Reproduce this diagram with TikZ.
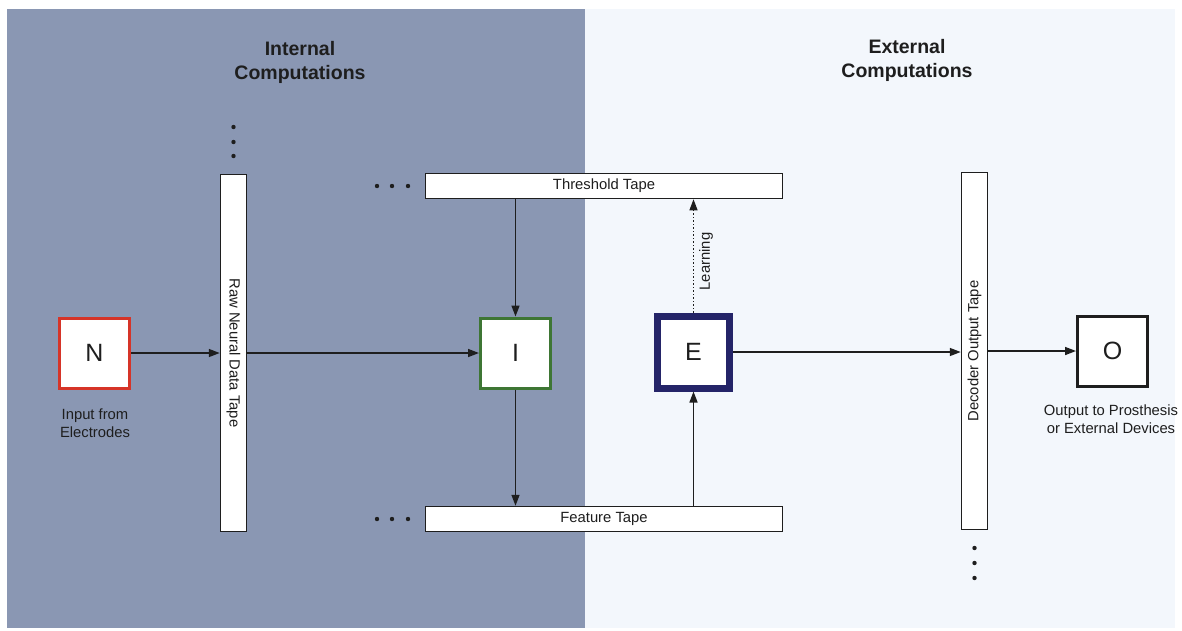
\documentclass[tikz,border=0pt]{standalone}
\usepackage{fontspec}
\setmainfont{Liberation Sans}
\usetikzlibrary{arrows.meta}
\definecolor{bggray}{RGB}{138,151,179}
\definecolor{bgblue}{RGB}{243,247,252}
\definecolor{nred}{RGB}{214,52,40}
\definecolor{igreen}{RGB}{62,118,52}
\definecolor{enavy}{RGB}{36,36,104}
\definecolor{ink}{RGB}{30,30,30}
\begin{document}
\begin{tikzpicture}[x=1pt,y=-1pt,
  tape/.style={draw=ink, fill=white, line width=1.5pt, inner sep=0pt, text=ink,
    font=\fontsize{14.8}{17}\selectfont},
  htape/.style={tape, minimum width=357pt, minimum height=25pt},
  vtape/.style={tape, minimum width=26pt, minimum height=357pt},
  proc/.style={fill=white, minimum size=70pt, inner sep=0pt, line width=3pt,
    text=ink, font=\fontsize{25}{30}\selectfont},
  conn/.style={draw=ink, line width=1.5pt, -{Triangle[length=11pt,width=8pt]}},
  lbl/.style={font=\fontsize{14.8}{17.5}\selectfont, align=center, text=ink},
  ttl/.style={font=\bfseries\fontsize{19.5}{24}\selectfont, align=center, text=ink},
  dotc/.style={circle, fill=ink, inner sep=0pt, minimum size=4.4pt}]
\useasboundingbox (0,0) rectangle (1182,630);
\fill[white] (0,0) rectangle (1182,630);
\fill[bggray] (7,9) rectangle (585,628);
\fill[bgblue] (585,9) rectangle (1175,628);

% titles
\node[ttl] (tint) at (300,62) {Internal\\Computations};
\node[ttl] (text) at (907,60) {External\\Computations};

% boxes
\node[proc, draw=nred] (N) at (94.5,353) {N};
\node[proc, draw=igreen] (I) at (515.5,353) {I};
\node[proc, draw=enavy, line width=7pt, minimum size=72pt] (E) at (693.5,352) {E};
\node[proc, draw=ink] (O) at (1112.5,351) {O};

% tapes
\node[vtape] (raw) at (233.5,353) {\rotatebox{-90}{Raw Neural Data Tape}};
\node[vtape] (dec) at (974.5,351) {\rotatebox{90}{Decoder Output Tape}};
\node[htape] (thr) at (604,186) {Threshold Tape};
\node[htape] (feat) at (604,519) {Feature Tape};

% labels
\node[lbl] (inlbl) at (95,423) {Input from\\Electrodes};
\node[lbl] (outlbl) at (1111,419) {Output to Prosthesis\\or External Devices};

% dots
\foreach \y [count=\i] in {127,142,156} \node[dotc] (rd\i) at (233.5,\y) {};
\foreach \x [count=\i] in {377,392,408} \node[dotc] (td\i) at (\x,186) {};
\foreach \x [count=\i] in {377,392,408} \node[dotc] (fd\i) at (\x,519) {};
\foreach \y [count=\i] in {548,563,578} \node[dotc] (dd\i) at (974.5,\y) {};

% connectors
\draw[conn] (N) -- (N -| raw.west);
\draw[conn] (raw.east |- I) -- (I);
\draw[conn] (thr.south -| I) -- (I);
\draw[conn] (I) -- (I |- feat.north);
\draw[conn] (feat.north -| E) -- (E);
\draw[conn, dotted, line width=1.2pt] (E) -- (E |- thr.south)
  node[pos=0.45, sloped, below, lbl, inner sep=5pt] (learn) {Learning};
\draw[conn] (E) -- (E -| dec.west);
\draw[conn] (dec.east |- O) -- (O);
\end{tikzpicture}
\end{document}
